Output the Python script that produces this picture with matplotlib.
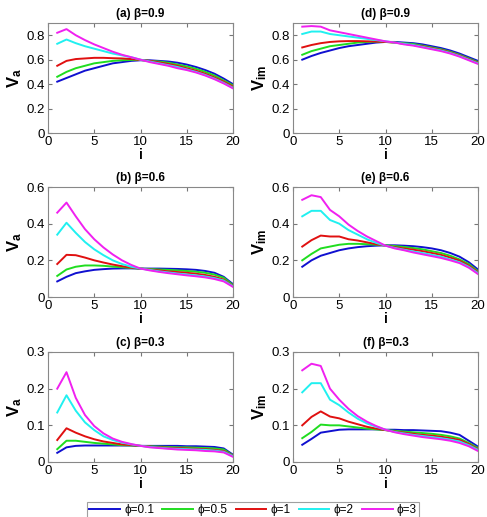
import numpy as np
import matplotlib
matplotlib.use("Agg")
import matplotlib.pyplot as plt

plt.rcParams['font.family'] = ['Liberation Sans', 'DejaVu Sans']
plt.rcParams['mathtext.fontset'] = 'custom'
plt.rcParams['mathtext.bf'] = 'Liberation Sans:bold'
plt.rcParams['mathtext.rm'] = 'Liberation Sans'

# data
i_vals = list(range(1, 21))
phi_labels = ["\u03d5=0.1", "\u03d5=0.5", "\u03d5=1", "\u03d5=2", "\u03d5=3"]
colors = ["#1010d0", "#20dd20", "#e01010", "#20f0f0", "#f020f0"]

# (a) beta=0.9, V_a
va_09 = [
    [0.42, 0.45, 0.48, 0.51, 0.53, 0.55, 0.57, 0.58, 0.59, 0.595, 0.595, 0.59, 0.585, 0.575, 0.56, 0.54, 0.515, 0.485, 0.445, 0.40],
    [0.46, 0.50, 0.53, 0.55, 0.57, 0.58, 0.59, 0.595, 0.598, 0.597, 0.59, 0.585, 0.575, 0.56, 0.545, 0.525, 0.50, 0.47, 0.43, 0.39],
    [0.55, 0.59, 0.605, 0.61, 0.615, 0.615, 0.612, 0.61, 0.605, 0.598, 0.59, 0.578, 0.565, 0.55, 0.53, 0.51, 0.485, 0.455, 0.42, 0.38],
    [0.73, 0.765, 0.735, 0.71, 0.69, 0.67, 0.65, 0.635, 0.62, 0.60, 0.585, 0.57, 0.555, 0.54, 0.52, 0.50, 0.475, 0.445, 0.41, 0.37],
    [0.82, 0.85, 0.80, 0.76, 0.725, 0.695, 0.665, 0.64, 0.62, 0.60, 0.58, 0.565, 0.55, 0.53, 0.515, 0.495, 0.47, 0.44, 0.405, 0.365],
]
# (d) beta=0.9, V_im
vim_09 = [
    [0.60, 0.63, 0.655, 0.675, 0.695, 0.71, 0.72, 0.73, 0.74, 0.745, 0.745, 0.74, 0.735, 0.725, 0.71, 0.695, 0.675, 0.65, 0.62, 0.59],
    [0.64, 0.67, 0.69, 0.71, 0.72, 0.73, 0.74, 0.745, 0.748, 0.745, 0.74, 0.735, 0.728, 0.715, 0.70, 0.685, 0.665, 0.64, 0.61, 0.58],
    [0.70, 0.72, 0.735, 0.745, 0.75, 0.752, 0.752, 0.75, 0.748, 0.745, 0.74, 0.73, 0.72, 0.71, 0.695, 0.68, 0.66, 0.635, 0.605, 0.575],
    [0.81, 0.83, 0.83, 0.81, 0.80, 0.79, 0.78, 0.77, 0.76, 0.75, 0.74, 0.73, 0.72, 0.705, 0.69, 0.675, 0.655, 0.63, 0.60, 0.57],
    [0.87, 0.875, 0.87, 0.84, 0.825, 0.81, 0.795, 0.78, 0.765, 0.75, 0.74, 0.725, 0.715, 0.70, 0.685, 0.67, 0.65, 0.625, 0.595, 0.565],
]
# (b) beta=0.6, V_a
va_06 = [
    [0.085, 0.11, 0.13, 0.14, 0.148, 0.152, 0.155, 0.156, 0.156, 0.155, 0.155, 0.155, 0.154, 0.153, 0.151, 0.148, 0.142, 0.132, 0.11, 0.07],
    [0.115, 0.15, 0.165, 0.172, 0.172, 0.17, 0.166, 0.162, 0.158, 0.155, 0.153, 0.15, 0.148, 0.145, 0.142, 0.138, 0.132, 0.122, 0.105, 0.065],
    [0.18, 0.23, 0.228, 0.215, 0.2, 0.188, 0.177, 0.168, 0.16, 0.155, 0.15, 0.145, 0.14, 0.136, 0.132, 0.127, 0.12, 0.11, 0.095, 0.06],
    [0.34, 0.405, 0.35, 0.30, 0.26, 0.228, 0.2, 0.18, 0.165, 0.155, 0.148, 0.14, 0.134, 0.128, 0.123, 0.118, 0.112, 0.103, 0.09, 0.058],
    [0.46, 0.515, 0.44, 0.37, 0.315, 0.27, 0.232, 0.2, 0.175, 0.155, 0.145, 0.137, 0.13, 0.124, 0.118, 0.113, 0.107, 0.098, 0.085, 0.055],
]
# (e) beta=0.6, V_im
vim_06 = [
    [0.165, 0.20, 0.225, 0.24, 0.255, 0.265, 0.272, 0.277, 0.28, 0.282, 0.282, 0.28, 0.277, 0.272, 0.265, 0.255, 0.24, 0.22, 0.19, 0.15],
    [0.20, 0.235, 0.265, 0.275, 0.285, 0.29, 0.29, 0.288, 0.285, 0.282, 0.278, 0.273, 0.267, 0.26, 0.25, 0.24, 0.225, 0.205, 0.18, 0.14],
    [0.275, 0.31, 0.335, 0.33, 0.33, 0.315, 0.308, 0.298, 0.288, 0.28, 0.272, 0.265, 0.258, 0.25, 0.24, 0.23, 0.215, 0.198, 0.172, 0.135],
    [0.44, 0.47, 0.47, 0.42, 0.40, 0.365, 0.34, 0.315, 0.295, 0.28, 0.268, 0.258, 0.248, 0.24, 0.23, 0.22, 0.205, 0.19, 0.165, 0.13],
    [0.53, 0.555, 0.545, 0.475, 0.44, 0.395, 0.36, 0.33, 0.305, 0.28, 0.265, 0.255, 0.243, 0.233, 0.223, 0.213, 0.2, 0.185, 0.16, 0.125],
]
# (c) beta=0.3, V_a
va_03 = [
    [0.025, 0.04, 0.044, 0.045, 0.045, 0.045, 0.045, 0.045, 0.045, 0.044, 0.044, 0.044, 0.044, 0.044, 0.043, 0.043, 0.042, 0.041, 0.037, 0.02],
    [0.035, 0.058, 0.058, 0.055, 0.052, 0.05, 0.048, 0.046, 0.045, 0.044, 0.043, 0.042, 0.041, 0.04, 0.04, 0.039, 0.038, 0.037, 0.034, 0.018],
    [0.06, 0.092, 0.08, 0.07, 0.062, 0.056, 0.052, 0.048, 0.046, 0.044, 0.042, 0.04, 0.039, 0.038, 0.037, 0.036, 0.035, 0.033, 0.03, 0.017],
    [0.135, 0.182, 0.14, 0.108, 0.087, 0.07, 0.06, 0.053, 0.048, 0.044, 0.041, 0.039, 0.037, 0.036, 0.035, 0.034, 0.033, 0.031, 0.028, 0.016],
    [0.20, 0.245, 0.175, 0.128, 0.098, 0.078, 0.064, 0.055, 0.049, 0.044, 0.04, 0.038, 0.036, 0.034, 0.033, 0.032, 0.03, 0.029, 0.026, 0.014],
]
# (f) beta=0.3, V_im
vim_03 = [
    [0.047, 0.063, 0.08, 0.084, 0.088, 0.089, 0.089, 0.089, 0.089, 0.088, 0.088, 0.087, 0.087, 0.086, 0.085, 0.084, 0.08, 0.074, 0.058, 0.042],
    [0.065, 0.082, 0.102, 0.1, 0.1, 0.097, 0.094, 0.091, 0.089, 0.087, 0.085, 0.083, 0.081, 0.079, 0.077, 0.074, 0.07, 0.064, 0.052, 0.038],
    [0.10, 0.123, 0.138, 0.124, 0.119, 0.11, 0.103, 0.096, 0.091, 0.087, 0.083, 0.08, 0.077, 0.074, 0.072, 0.069, 0.065, 0.06, 0.049, 0.035],
    [0.19, 0.215, 0.215, 0.17, 0.155, 0.135, 0.118, 0.105, 0.096, 0.088, 0.082, 0.078, 0.074, 0.071, 0.068, 0.065, 0.061, 0.056, 0.046, 0.033],
    [0.25, 0.268, 0.262, 0.20, 0.17, 0.145, 0.125, 0.11, 0.098, 0.088, 0.081, 0.076, 0.072, 0.068, 0.065, 0.062, 0.058, 0.052, 0.043, 0.03],
]

W, H = 487, 517
fig = plt.figure(figsize=(W / 100, H / 100), dpi=100)

panels = [
    # (data, title, ylabel, ylim, yticks, left px, top px)
    (va_09, "(a) \u03b2=0.9", r"$\mathbf{V_a}$", 0.9, [0, 0.2, 0.4, 0.6, 0.8], 48, 23),
    (vim_09, "(d) \u03b2=0.9", r"$\mathbf{V_{im}}$", 0.9, [0, 0.2, 0.4, 0.6, 0.8], 293, 23),
    (va_06, "(b) \u03b2=0.6", r"$\mathbf{V_a}$", 0.6, [0, 0.2, 0.4, 0.6], 48, 187),
    (vim_06, "(e) \u03b2=0.6", r"$\mathbf{V_{im}}$", 0.6, [0, 0.2, 0.4, 0.6], 293, 187),
    (va_03, "(c) \u03b2=0.3", r"$\mathbf{V_a}$", 0.3, [0, 0.1, 0.2, 0.3], 48, 352),
    (vim_03, "(f) \u03b2=0.3", r"$\mathbf{V_{im}}$", 0.3, [0, 0.1, 0.2, 0.3], 293, 352),
]
ax_w, ax_h = 185, 110

for data, title, ylab, ymax, yt, lpx, tpx in panels:
    ax = fig.add_axes([lpx / W, 1 - (tpx + ax_h) / H, ax_w / W, ax_h / H])
    for series, c, lab in zip(data, colors, phi_labels):
        ax.plot(i_vals, series, color=c, lw=1.4, label=lab)
    ax.set_xlim(0, 20)
    ax.set_ylim(0, ymax)
    ax.set_xticks([0, 5, 10, 15, 20])
    ax.set_yticks(yt)
    ax.set_yticklabels([f"{v:g}" for v in yt])
    ax.tick_params(direction="in", length=3, labelsize=9.5, top=True, right=True,
                   color="#777777", pad=2)
    for s in ax.spines.values():
        s.set_color("#888888")
        s.set_linewidth(0.8)
    ax.set_title(title, fontsize=8.5, fontweight="bold", pad=4)
    ax.set_xlabel("i", fontsize=10, fontweight="bold", labelpad=0)
    ax.set_ylabel(ylab, fontsize=12, labelpad=2)

handles, labels = fig.axes[0].get_legend_handles_labels()
leg = fig.legend(handles, labels, loc="center", bbox_to_anchor=(253 / W, 1 - 510 / H),
                 ncol=5, fontsize=8.5, frameon=True, fancybox=False, handlelength=2.6,
                 handletextpad=0.35, columnspacing=0.7, borderpad=0.2, borderaxespad=0,
                 edgecolor="#888888")
leg.get_frame().set_linewidth(0.8)

fig.savefig("out.png", dpi=100)
